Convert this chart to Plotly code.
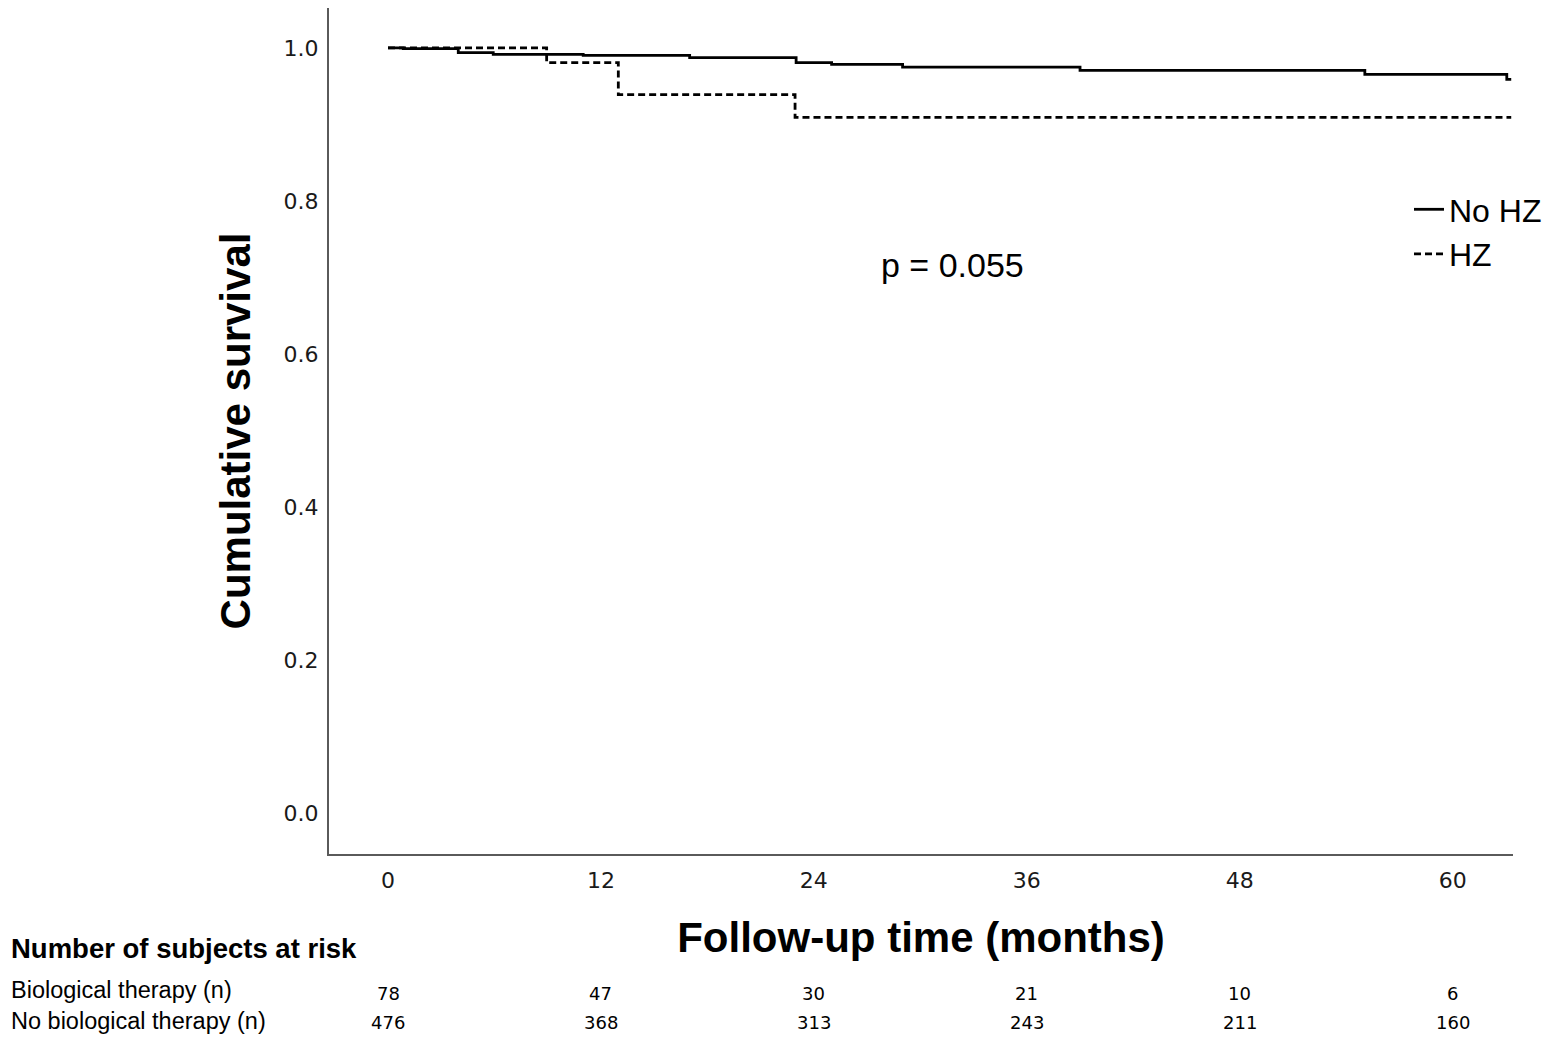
import plotly.graph_objects as go

# ---- data ----
no_hz_time = [0, 0.86, 3.96, 5.93, 11.0, 17.0, 23.0, 25.0, 29.0, 39.0, 55.05, 63.05, 63.3]
no_hz_surv = [1.0, 0.999, 0.9937, 0.9915, 0.9902, 0.9872, 0.9807, 0.9784, 0.9749, 0.9706, 0.9654, 0.9588, 0.9588]

hz_time = [0, 8.94, 12.98, 22.94, 63.3]
hz_surv = [1.0, 0.9807, 0.9388, 0.9092, 0.9092]

x_ticks = [0, 12, 24, 36, 48, 60]
y_ticks = [0.0, 0.2, 0.4, 0.6, 0.8, 1.0]
y_tick_labels = ["0.0", "0.2", "0.4", "0.6", "0.8", "1.0"]

risk_rows = ["Biological therapy (n)", "No biological therapy (n)"]
risk_bio = [78, 47, 30, 21, 10, 6]
risk_nobio = [476, 368, 313, 243, 211, 160]

p_text = "p = 0.055"

# ---- figure geometry (page is shown with an 8px body margin) ----
OFF = 8
W, H = 1550 - OFF, 1039 - OFF
ML, MR, MT, MB = 321, 37, 0, 185
plot_w = W - ML - MR
plot_h = H - MT - MB


def py(ref_px):
    """reference page row -> paper y"""
    return (H - MB - (ref_px - OFF)) / plot_h


def pxx(ref_px):
    """reference page column -> paper x"""
    return ((ref_px - OFF) - ML) / plot_w


LABEL_FONT = "Liberation Sans, Arial, Helvetica, sans-serif"
NUM_FONT = "DejaVu Sans, Verdana, sans-serif"

fig = go.Figure()
fig.add_trace(go.Scatter(
    x=no_hz_time, y=no_hz_surv, mode="lines", name="No HZ",
    line=dict(color="black", width=2.8, shape="hv"),
))
fig.add_trace(go.Scatter(
    x=hz_time, y=hz_surv, mode="lines", name="HZ",
    line=dict(color="black", width=2.8, shape="hv", dash="7px,4px"),
))

annotations = []
# p-value
annotations.append(dict(
    x=31.8, y=0.717, xref="x", yref="y", text=p_text, showarrow=False,
    font=dict(family=LABEL_FONT, size=34, color="black"),
    xanchor="center", yanchor="middle",
))
# risk table header
annotations.append(dict(
    x=pxx(9), y=py(948), xref="paper", yref="paper",
    text="<b>Number of subjects at risk</b>", showarrow=False,
    font=dict(family=LABEL_FONT, size=27.5, color="black"),
    xanchor="left", yanchor="middle",
))
row_y = [py(993), py(1022)]
label_y = [py(990), py(1021)]
for lbl, yy in zip(risk_rows, label_y):
    annotations.append(dict(
        x=pxx(9), y=yy, xref="paper", yref="paper", text=lbl, showarrow=False,
        font=dict(family=LABEL_FONT, size=23.5, color="black"),
        xanchor="left", yanchor="middle",
    ))
for vals, yy in zip([risk_bio, risk_nobio], row_y):
    for t, v in zip(x_ticks, vals):
        annotations.append(dict(
            x=t, y=yy, xref="x", yref="paper", text=str(v), showarrow=False,
            font=dict(family=NUM_FONT, size=18, color="black"),
            xanchor="center", yanchor="middle",
        ))

fig.update_layout(
    width=W, height=H,
    margin=dict(l=ML, r=MR, t=MT, b=MB, autoexpand=False),
    paper_bgcolor="white", plot_bgcolor="white",
    showlegend=True,
    legend=dict(
        x=pxx(1409), y=py(182), xanchor="left", yanchor="top",
        font=dict(family=LABEL_FONT, size=32, color="black"),
        bgcolor="rgba(0,0,0,0)", borderwidth=0, itemwidth=30,
        tracegroupgap=0,
    ),
    annotations=annotations,
    xaxis=dict(
        range=[-3.325, 63.4],
        tickvals=x_ticks, ticktext=[str(t) for t in x_ticks],
        showgrid=False, zeroline=False,
        showline=True, linecolor="#5a5a5a", linewidth=2,
        ticks="", ticklabelstandoff=6,
        tickfont=dict(family=NUM_FONT, size=22, color="#1a1a1a"),
        title=dict(text="<b>Follow-up time (months)</b>", standoff=30,
                   font=dict(family=LABEL_FONT, size=42, color="black")),
    ),
    yaxis=dict(
        range=[-0.0529, 1.052],
        tickvals=y_ticks, ticktext=y_tick_labels,
        showgrid=False, zeroline=False,
        showline=True, linecolor="#5a5a5a", linewidth=2,
        ticks="", ticklabelstandoff=4,
        tickfont=dict(family=NUM_FONT, size=22, color="#1a1a1a"),
        title=dict(text="<b>Cumulative survival</b>", standoff=20,
                   font=dict(family=LABEL_FONT, size=42, color="black")),
    ),
)

fig.write_html("out.html")
